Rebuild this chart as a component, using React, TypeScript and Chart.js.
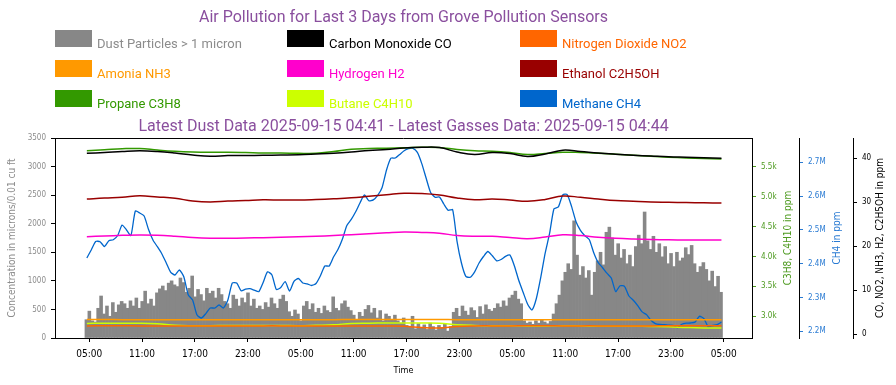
import React, { useEffect, useRef } from "react";
import { Chart, registerables } from "chart.js";
Chart.register(...registerables);

// ---------- text ----------
const TITLE = "Air Pollution for Last 3 Days from Grove Pollution Sensors";
const SUBTITLE = "Latest Dust Data 2025-09-15 04:41 - Latest Gasses Data: 2025-09-15 04:44";
const X_TITLE = "Time";
const Y_DUST_TITLE = "Concentration in microns/0.01 cu ft";
const Y_GAS_TITLE = "C3H8, C4H10 in ppm";
const Y_CH4_TITLE = "CH4 in ppm";
const Y_CO_TITLE = "CO, NO2, NH3, H2, C2H5OH in ppm";

// ---------- ticks ----------
// hours since 2025-09-12 00:00
const X_TICK_HOURS = [5, 11, 17, 23, 29, 35, 41, 47, 53, 59, 65, 71, 77];
const X_TICK_LABELS = ["05:00", "11:00", "17:00", "23:00", "05:00", "11:00", "17:00", "23:00", "05:00", "11:00", "17:00", "23:00", "05:00"];
const DUST_TICKS = [0, 500, 1000, 1500, 2000, 2500, 3000, 3500];
const GAS_TICKS = [3000, 3500, 4000, 4500, 5000, 5500];
const GAS_TICK_LABELS = ["3.0k", "3.5k", "4.0k", "4.5k", "5.0k", "5.5k"];
const CH4_TICKS = [2200000, 2300000, 2400000, 2500000, 2600000, 2700000];
const CH4_TICK_LABELS = ["2.2M", "2.3M", "2.4M", "2.5M", "2.6M", "2.7M"];
const CO_TICKS = [0, 10, 20, 30, 40];

// ---------- sampling ----------
const DUST_START_HOUR = 4 + 41 / 60; // 2025-09-12 04:41
const DUST_STEP_HOURS = 20 / 60;
const GAS_START_HOUR = 4 + 44 / 60; // 2025-09-12 04:44
const GAS_STEP_HOURS = 2;
const CH4_STEP_HOURS = 0.5;

// ---------- series ----------
const DUST = [
  320, 470, 300, 280, 520, 735, 420, 560, 380, 620, 450, 580, 640, 600, 520, 650,
  560, 700, 520, 640, 820, 600, 680, 560, 790, 860, 910, 830, 960, 1000, 930,
  900, 1050, 970, 800, 870, 1085, 720, 850, 760, 650, 870, 780, 820, 700, 870, 760, 640,
  600, 520, 750, 680, 560, 700, 620, 790, 560, 680, 520, 560, 500, 620, 540, 700,
  600, 520, 680, 750, 640, 460, 380, 490, 420, 300, 560, 640, 500, 600, 450,
  520, 430, 560, 480, 450, 720, 520, 480, 600, 650, 540, 480, 400, 310, 450,
  380, 500, 570, 440, 520, 350, 480, 300, 420, 380, 320,
  400, 300, 260, 350, 220, 200, 380, 160, 250, 180, 230, 150, 260, 200, 140,
  220, 180, 250, 120, 200, 450, 520, 380, 560, 470, 400, 530, 480, 360, 550,
  420, 580, 500, 470, 520, 600, 540, 650, 560, 700, 750, 820, 680, 600,
  300, 260, 280, 240, 300, 260, 310, 280, 250, 290,
  420, 600, 750, 1000, 1150, 1300, 1200, 2050, 1450, 1100, 1250,
  1050, 1180, 750, 1150, 1350, 1500, 1280, 1850, 1940, 1750, 1450,
  1650, 1400, 1550, 1300, 1450, 1250, 1600, 1800, 1650, 2205, 1700,
  1550, 1780, 1500, 1650, 1420, 1600, 1300, 1480, 1250, 1500, 1350, 1400,
  1580, 1460, 1620, 1300, 1150, 1250, 1320, 1200, 1000, 1170, 900, 1080, 800,
];

const CO = [
  41.14, 41.32, 41.55, 41.71, 41.55, 41.20, 40.75, 40.45, 40.64, 40.64, 40.68, 40.75,
  40.82, 40.98, 41.16, 41.43, 41.77, 42.00, 42.34, 42.50, 42.45, 41.43, 40.86, 41.32,
  41.09, 40.41, 40.98, 41.84, 41.55, 41.20, 40.93, 40.70, 40.52, 40.34, 40.23, 40.11, 40.02,
];
const NO2 = [
  1.85, 1.86, 1.86, 1.85, 1.84, 1.84, 1.83, 1.83, 1.84, 1.84, 1.85, 1.85,
  1.84, 1.84, 1.84, 1.83, 1.82, 1.80, 1.75, 1.47, 1.36, 1.72, 1.84, 1.85,
  1.85, 1.86, 1.86, 1.85, 1.85, 1.85, 1.84, 1.84, 1.85, 1.86, 1.86, 1.87, 1.87,
];
const NH3 = [
  3.30, 3.28, 3.27, 3.26, 3.25, 3.25, 3.24, 3.24, 3.25, 3.26, 3.26, 3.25,
  3.25, 3.26, 3.27, 3.28, 3.28, 3.29, 3.30, 3.30, 3.29, 3.27, 3.26, 3.25,
  3.25, 3.24, 3.25, 3.26, 3.26, 3.25, 3.25, 3.24, 3.24, 3.24, 3.23, 3.23, 3.23,
];
const H2 = [
  22.15, 22.31, 22.46, 22.56, 22.49, 22.26, 21.96, 21.80, 21.80, 21.85, 21.94, 22.03,
  22.12, 22.26, 22.42, 22.62, 22.80, 23.03, 23.21, 23.12, 22.94, 22.42, 22.24, 22.24,
  21.96, 21.71, 22.08, 22.58, 22.42, 22.03, 21.78, 21.62, 21.51, 21.44, 21.42, 21.40, 21.40,
];
const ETHANOL = [
  30.73, 30.96, 31.12, 31.46, 31.19, 30.91, 30.27, 30.05, 30.27, 30.39, 30.55, 30.50,
  30.50, 30.62, 30.78, 31.00, 31.35, 31.69, 32.05, 31.98, 31.64, 30.96, 30.57, 30.73,
  30.50, 30.21, 30.62, 31.41, 31.12, 30.73, 30.39, 30.21, 30.05, 29.98, 29.91, 29.87, 29.82,
];
const PROPANE = [
  5768, 5783, 5800, 5805, 5779, 5758, 5746, 5741, 5741, 5736, 5729, 5729,
  5724, 5724, 5754, 5793, 5803, 5810, 5816, 5825, 5821, 5788, 5766, 5759,
  5738, 5704, 5721, 5743, 5738, 5726, 5709, 5693, 5676, 5659, 5646, 5636, 5629,
];
const BUTANE = [
  2880, 2885, 2884, 2884, 2875, 2850, 2843, 2843, 2847, 2847, 2847, 2847,
  2843, 2850, 2858, 2880, 2885, 2889, 2889, 2889, 2885, 2858, 2847, 2843,
  2842, 2838, 2838, 2842, 2838, 2833, 2833, 2833, 2830, 2825, 2813, 2805, 2805,
];
const METHANE = [
  2416900, 2440500, 2465700, 2465100, 2450900, 2467800, 2471000, 2483400, 2514500, 2499700,
  2483400, 2555900, 2550000, 2541100, 2501200, 2470100, 2450300, 2429600, 2403000, 2375400,
  2366600, 2381400, 2361200, 2308300, 2292600, 2248200, 2239400, 2252400, 2268900, 2268900,
  2277800, 2268900, 2292600, 2342900, 2342900, 2319800, 2324600, 2326000, 2321600, 2317200,
  2344400, 2376000, 2366600, 2323700, 2329600, 2347300, 2319200, 2347900, 2356200, 2342900,
  2340500, 2335500, 2341400, 2364500, 2393200, 2393200, 2420400, 2442600, 2473100, 2513300,
  2531100, 2553600, 2580500, 2603300, 2586100, 2588800, 2602100, 2625400, 2677200, 2712100,
  2712700, 2723400, 2734300, 2740500, 2741400, 2729300, 2696200, 2652700, 2610700, 2596800,
  2597300, 2576600, 2558000, 2559800, 2466300, 2402100, 2362400, 2359800, 2376000, 2402100,
  2421300, 2436100, 2423400, 2408600, 2412400, 2421900, 2425700, 2394100, 2350900, 2315400,
  2280800, 2263000, 2297000, 2359500, 2431100, 2489400, 2562400, 2568100, 2603900, 2604700,
  2568900, 2524000, 2498800, 2482800, 2471600, 2433100, 2403900, 2388800, 2371900, 2357700,
  2317800, 2334600, 2333100, 2304400, 2291700, 2276000, 2257400, 2249400, 2232500, 2222800,
  2220100, 2219800, 2218300, 2217500, 2210700, 2221000, 2224000, 2224600, 2227200, 2244400,
  2237900, 2213300, 2217200, 2219500, 2227500,
];

// ---------- styling ----------
const TITLE_COLOR = "#8a4f9e";
const TICK_FONT = "'DejaVu Sans Condensed', 'DejaVu Sans', sans-serif";
const HEAD_FONT = "Roboto, 'Noto Sans', sans-serif";
const C = {
  dust: "#878787", dustText: "#8c8c8c", co: "#000000", no2: "#ff6600", nh3: "#ff9900",
  h2: "#ff00cc", eth: "#990000", c3h8: "#339900", c4h10: "#ccff00", ch4: "#0066cc",
  gasAxis: "#4d9a1f", ch4Axis: "#2a7bd3",
};

const toPoints = (vals: number[], start: number, step: number) =>
  vals.map((v, i) => ({ x: start + i * step, y: v }));

const line = (label: string, data: number[], color: string, axis: string, step: number, extra: any = {}) => ({
  type: "line" as const,
  label,
  data: toPoints(data, GAS_START_HOUR, step),
  borderColor: color,
  backgroundColor: color,
  borderWidth: 1.5,
  pointRadius: 0,
  tension: 0.4,
  yAxisID: axis,
  order: 0,
  ...extra,
});

const headerPlugin = {
  id: "header",
  afterDraw(chart: any) {
    const { ctx, chartArea: ca } = chart;
    ctx.save();
    // frame top
    ctx.strokeStyle = "#000";
    ctx.lineWidth = 1;
    ctx.beginPath();
    ctx.moveTo(ca.left, Math.floor(ca.top) + 0.5);
    ctx.lineTo(ca.right, Math.floor(ca.top) + 0.5);
    ctx.stroke();

    const cx = (ca.left + ca.right) / 2;
    ctx.fillStyle = TITLE_COLOR;
    ctx.font = `16px ${HEAD_FONT}`;
    ctx.textAlign = "center";
    ctx.textBaseline = "alphabetic";
    ctx.fillText(TITLE, cx, 22);
    ctx.fillText(SUBTITLE, cx, 131);

    // legend grid 3 x 3
    const colX = [55, 287, 520];
    const rowY = [30, 60, 90];
    ctx.font = `13px ${HEAD_FONT}`;
    ctx.textAlign = "left";
    chart.data.datasets.forEach((ds: any, i: number) => {
      const x = colX[i % 3];
      const y = rowY[Math.floor(i / 3)];
      ctx.fillStyle = ds.backgroundColor;
      ctx.fillRect(x, y, 37, 17);
      ctx.fillStyle = ds.legendTextColor || ds.borderColor || ds.backgroundColor;
      ctx.fillText(ds.label, x + 42, y + 18);
    });

    // right axis titles (rotated bottom-to-top)
    const midY = (ca.top + ca.bottom) / 2;
    const rt = [
      { id: "yGas", text: Y_GAS_TITLE, color: C.gasAxis, off: 11 },
      { id: "yCH4", text: Y_CH4_TITLE, color: C.ch4Axis, off: 16 },
      { id: "yCO", text: Y_CO_TITLE, color: "#000", off: 16 },
    ];
    ctx.font = `10px ${TICK_FONT}`;
    ctx.textAlign = "center";
    ctx.textBaseline = "middle";
    rt.forEach((t) => {
      const s = chart.scales[t.id];
      ctx.save();
      ctx.translate(s.right - t.off, midY);
      ctx.rotate(-Math.PI / 2);
      ctx.fillStyle = t.color;
      ctx.fillText(t.text, 0, 0);
      ctx.restore();
    });
    ctx.restore();
  },
};

const yAxis = (opts: any) => ({
  type: "linear",
  grid: { display: true, drawOnChartArea: false, drawTicks: true, tickLength: 4, tickColor: opts.tickColor, tickWidth: 1, offset: false },
  border: { display: true, color: "#000", width: 1 },
  ...opts.base,
  afterBuildTicks: (s: any) => { s.ticks = opts.tickValues.map((v: number) => ({ value: v })); },
  ticks: {
    autoSkip: false,
    font: { size: 8, family: TICK_FONT },
    padding: 5,
    color: opts.labelColor,
    callback: (_v: any, i: number) => opts.tickLabels[i],
  },
  afterFit: (s: any) => { s.width = opts.width; },
});

export default function App() {
  const ref = useRef<HTMLCanvasElement>(null);
  useEffect(() => {
    Chart.defaults.font.family = TICK_FONT;
    const chart = new Chart(ref.current as HTMLCanvasElement, {
      type: "bar",
      data: {
        datasets: [
          {
            type: "bar",
            label: "Dust Particles > 1 micron",
            data: toPoints(DUST, DUST_START_HOUR, DUST_STEP_HOURS),
            backgroundColor: C.dust,
            borderWidth: 0,
            barPercentage: 1,
            categoryPercentage: 1,
            yAxisID: "y",
            order: 5,
            legendTextColor: C.dustText,
          } as any,
          line("Carbon Monoxide CO", CO, C.co, "yCO", GAS_STEP_HOURS),
          line("Nitrogen Dioxide NO2", NO2, C.no2, "yCO", GAS_STEP_HOURS),
          line("Amonia NH3", NH3, C.nh3, "yCO", GAS_STEP_HOURS),
          line("Hydrogen H2", H2, C.h2, "yCO", GAS_STEP_HOURS),
          line("Ethanol C2H5OH", ETHANOL, C.eth, "yCO", GAS_STEP_HOURS),
          line("Propane C3H8", PROPANE, C.c3h8, "yGas", GAS_STEP_HOURS),
          line("Butane C4H10", BUTANE, C.c4h10, "yGas", GAS_STEP_HOURS),
          line("Methane CH4", METHANE, C.ch4, "yCH4", CH4_STEP_HOURS, { borderWidth: 1.3, tension: 0.2 }),
        ] as any,
      },
      options: {
        responsive: false,
        animation: false,
        devicePixelRatio: 1,
        layout: { padding: { top: 138, left: 0, right: 0, bottom: 0 } },
        plugins: { legend: { display: false }, tooltip: { enabled: false }, title: { display: false } },
        scales: {
          x: {
            type: "linear",
            min: 1.12,
            max: 80.2,
            offset: false,
            grid: { display: true, drawOnChartArea: false, drawTicks: true, tickLength: 4, tickColor: "#000", offset: false },
            border: { display: true, color: "#000" },
            afterBuildTicks: (s: any) => { s.ticks = X_TICK_HOURS.map((v) => ({ value: v })); },
            ticks: {
              color: "#000",
              font: { size: 10, family: TICK_FONT },
              padding: 6,
              maxRotation: 0,
              autoSkip: false,
              callback: (_v: any, i: number) => X_TICK_LABELS[i],
            },
            title: { display: true, text: X_TITLE, color: "#000", font: { size: 9, family: TICK_FONT }, padding: 9 },
            afterFit: (s: any) => { s.height = 47; },
          },
          y: yAxis({
            width: 55,
            tickColor: "#000",
            labelColor: "#8c8c8c",
            tickValues: DUST_TICKS,
            tickLabels: DUST_TICKS.map(String),
            base: {
              position: "left", min: 0, max: 3500,
              title: { display: true, text: Y_DUST_TITLE, color: "#8c8c8c", font: { size: 10, family: TICK_FONT }, padding: 6 },
            },
          }),
          yGas: yAxis({
            width: 47,
            tickColor: C.gasAxis,
            labelColor: C.gasAxis,
            tickValues: GAS_TICKS,
            tickLabels: GAS_TICK_LABELS,
            base: { position: "right", min: 2637, max: 5980 },
          }),
          yCH4: yAxis({
            width: 54,
            tickColor: C.ch4Axis,
            labelColor: C.ch4Axis,
            tickValues: CH4_TICKS,
            tickLabels: CH4_TICK_LABELS,
            base: { position: "right", min: 2180200, max: 2771900 },
          }),
          yCO: yAxis({
            width: 43,
            tickColor: "#000",
            labelColor: "#000",
            tickValues: CO_TICKS,
            tickLabels: CO_TICKS.map(String),
            base: { position: "right", min: -0.91, max: 44.62 },
          }),
        },
      } as any,
      plugins: [headerPlugin],
    });
    return () => chart.destroy();
  }, []);

  return (
    <div style={{ position: "fixed", left: 0, top: 0, width: 896, height: 385, background: "#fff" }}>
      <canvas ref={ref} width={896} height={385} style={{ display: "block", width: 896, height: 385 }} />
    </div>
  );
}
